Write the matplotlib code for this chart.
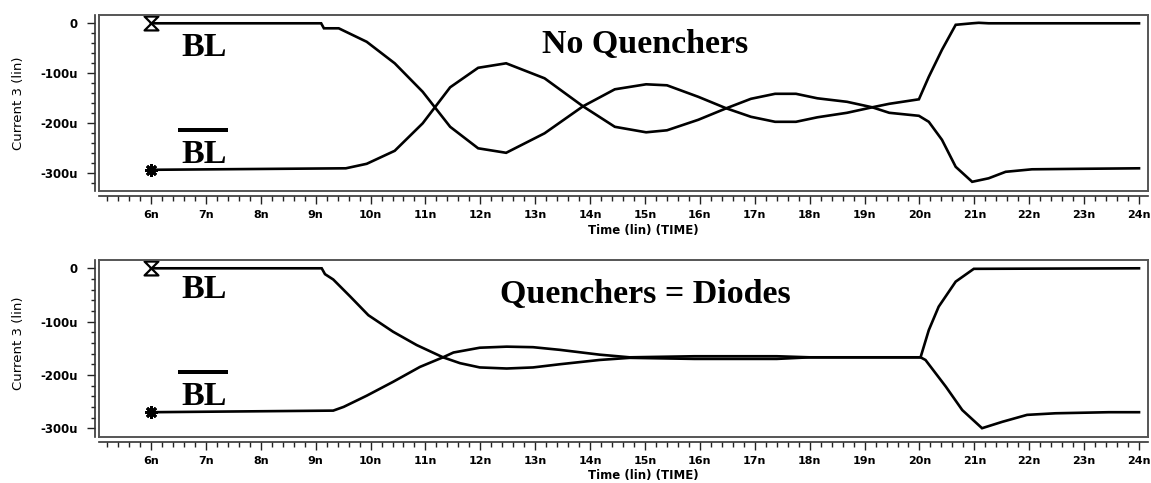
import matplotlib
matplotlib.use("Agg")
import matplotlib.pyplot as plt
from matplotlib.path import Path
from matplotlib.lines import Line2D
from matplotlib.ticker import MultipleLocator, FixedLocator, FixedFormatter

# ---------------- data (time in ns, current in uA) ----------------
top_bl_t = [6.0, 9.10, 9.15, 9.42, 9.93, 10.44, 10.95, 11.45, 11.96, 12.47, 13.17, 13.87,
            14.45, 15.02, 15.40, 15.97, 16.48, 16.93, 17.37, 17.75, 18.14, 18.68, 19.14,
            19.45, 19.99, 20.17, 20.41, 20.66, 20.96, 21.26, 21.57, 22.05, 22.96, 24.0]
top_bl_i = [0, 0, -10, -10, -37, -80, -137, -207, -250, -259, -220, -166,
            -207, -218, -214, -193, -170, -187, -197, -197, -188, -179, -168,
            -179, -185, -197, -233, -287, -317, -310, -297, -292, -291, -290]

top_blb_t = [6.0, 9.55, 9.93, 10.44, 10.95, 11.45, 11.96, 12.47, 13.17, 13.87, 14.45,
             15.02, 15.40, 15.97, 16.48, 16.93, 17.37, 17.75, 18.14, 18.68, 19.14, 19.45,
             19.99, 20.17, 20.41, 20.66, 20.96, 21.08, 21.26, 24.0]
top_blb_i = [-293, -290, -281, -255, -200, -128, -89, -80, -110, -166, -132,
             -122, -124, -147, -170, -151, -141, -141, -150, -157, -168, -161,
             -152, -107, -53, -3, 0, 1, 0, 0]

bot_bl_t = [6.0, 9.11, 9.17, 9.32, 9.63, 9.96, 10.41, 10.84, 11.32, 11.63, 11.99, 12.48,
            12.96, 13.45, 14.17, 14.72, 15.9, 17.4, 18.0, 20.02, 20.17, 20.35, 20.66,
            20.99, 24.0]
bot_bl_i = [0, 0, -11, -21, -53, -88, -119, -144, -167, -178, -186, -188,
            -186, -180, -172, -168, -170, -170, -167, -167, -116, -72, -25,
            -1, 0]

bot_blb_t = [6.0, 9.32, 9.51, 9.93, 10.41, 10.90, 11.32, 11.51, 11.99, 12.48, 12.96,
             13.45, 14.17, 14.72, 15.9, 17.4, 18.0, 20.02, 20.11, 20.48, 20.78, 21.14,
             21.51, 21.96, 22.48, 23.45, 24.0]
bot_blb_i = [-270, -267, -260, -239, -213, -185, -167, -158, -149, -147, -148,
             -153, -162, -167, -165, -165, -167, -167, -172, -222, -266, -300,
             -288, -275, -272, -270, -270]

x_ticks = list(range(6, 25))
x_ticklabels = [f"{v}n" for v in x_ticks]
y_ticks = [0, -100, -200, -300]
y_ticklabels = ["0", "-100u", "-200u", "-300u"]

titles = ["No Quenchers", "Quenchers = Diodes"]
ylabel = "Current 3 (lin)"
xlabel = "Time (lin) (TIME)"

# ---------------- figure ----------------
W, H = 1151, 483
DPI = 100
fig = plt.figure(figsize=(W / DPI, H / DPI), dpi=DPI)
fig.patch.set_facecolor("white")

def fx(px):
    return px / W

def fy(py):
    return 1 - py / H

px2pt = 72.0 / DPI

hourglass = Path([(-1, 1), (1, 1), (-1, -1), (1, -1), (-1, 1)],
                 [Path.MOVETO, Path.LINETO, Path.LINETO, Path.LINETO, Path.CLOSEPOLY])

panels = [
    dict(top=15, bot=191, y0=23.3, scale=0.5, bl=(top_bl_t, top_bl_i), blb=(top_blb_t, top_blb_i),
         title=titles[0], title_base=53, bl_base=56, ol_y=130, blb_base=163,
         ylab_y=103, xlab_y=230.5),
    dict(top=260, bot=436.7, y0=268.3, scale=0.533, bl=(bot_bl_t, bot_bl_i), blb=(bot_blb_t, bot_blb_i),
         title=titles[1], title_base=303, bl_base=298, ol_y=372, blb_base=405,
         ylab_y=343, xlab_y=475),
]

left_px, right_px = 99, 1148
x6_px, ns_px = 151.0, 54.89
xlim = (6 + (left_px - x6_px) / ns_px, 6 + (right_px - x6_px) / ns_px)

tick_font = dict(family="DejaVu Sans", weight="bold", size=8)

for p in panels:
    pos = [fx(left_px), fy(p["bot"]), fx(right_px - left_px), (p["bot"] - p["top"]) / H]
    ylim = ((p["y0"] - p["bot"]) / p["scale"], (p["y0"] - p["top"]) / p["scale"])

    # axis lines (offset from the box), drawn first so box sits on top
    ax2 = fig.add_axes(pos)
    ax2.patch.set_visible(False)
    ax2.set_xlim(*xlim)
    ax2.set_ylim(*ylim)
    for side in ("top", "right"):
        ax2.spines[side].set_visible(False)
    ax2.spines["left"].set_position(("outward", 4 * px2pt))
    ax2.spines["bottom"].set_position(("outward", 5 * px2pt))
    for side in ("left", "bottom"):
        ax2.spines[side].set_color("#333333")
        ax2.spines[side].set_linewidth(1.2)
    ax2.xaxis.set_major_locator(FixedLocator(x_ticks))
    ax2.xaxis.set_major_formatter(FixedFormatter(x_ticklabels))
    ax2.xaxis.set_minor_locator(MultipleLocator(0.2))
    ax2.yaxis.set_major_locator(FixedLocator(y_ticks))
    ax2.yaxis.set_major_formatter(FixedFormatter(y_ticklabels))
    ax2.yaxis.set_minor_locator(MultipleLocator(20))
    ax2.tick_params(axis="both", which="major", direction="out", length=8 * px2pt,
                    width=1.0, color="#222222")
    ax2.tick_params(axis="both", which="minor", direction="out", length=4.5 * px2pt,
                    width=1.0, color="#222222")
    ax2.tick_params(axis="x", which="major", pad=6 * px2pt)
    ax2.tick_params(axis="y", which="major", pad=9 * px2pt)
    for lab in ax2.get_xticklabels() + ax2.get_yticklabels():
        lab.set_fontfamily(tick_font["family"])
        lab.set_fontweight(tick_font["weight"])
        lab.set_fontsize(tick_font["size"])
    for lab in ax2.get_yticklabels():
        lab.set_fontsize(8.5)

    ax = fig.add_axes(pos)
    ax.patch.set_visible(False)
    ax.set_xlim(*xlim)
    ax.set_ylim(*ylim)
    ax.tick_params(left=False, bottom=False, labelleft=False, labelbottom=False)
    for s in ax.spines.values():
        s.set_color("#555555")
        s.set_linewidth(1.4)

    t, i = p["bl"]
    ax.plot(t, i, color="black", lw=1.9, solid_joinstyle="miter")
    t, i = p["blb"]
    ax.plot(t, i, color="black", lw=1.9, solid_joinstyle="miter")
    ax.plot([p["bl"][0][0]], [p["bl"][1][0]], marker=hourglass, ms=10, mfc="white",
            mec="black", mew=1.6, ls="none")
    ax.plot([p["blb"][0][0]], [p["blb"][1][0]], marker=(8, 2, 0), ms=9,
            mec="black", mew=2.0, ls="none")

    fig.text(fx(19), fy(p["ylab_y"]), ylabel, rotation=90, ha="center", va="center",
             family="DejaVu Sans", size=9.5)
    fig.text(fx(643), fy(p["xlab_y"]), xlabel, ha="center", va="center",
             family="DejaVu Sans", weight="bold", size=8.5)

    serif = dict(family="Liberation Serif", weight="bold", size=24.5)
    fig.text(fx(645), fy(p["title_base"]), p["title"], ha="center", va="baseline", **serif)
    fig.text(fx(181), fy(p["bl_base"]), "BL", ha="left", va="baseline", **serif)
    fig.text(fx(181), fy(p["blb_base"]), "BL", ha="left", va="baseline", **serif)
    fig.add_artist(Line2D([fx(178), fx(228)], [fy(p["ol_y"]), fy(p["ol_y"])],
                          color="black", lw=4 * px2pt, solid_capstyle="butt"))

fig.savefig("out.png", dpi=DPI, facecolor="white")
